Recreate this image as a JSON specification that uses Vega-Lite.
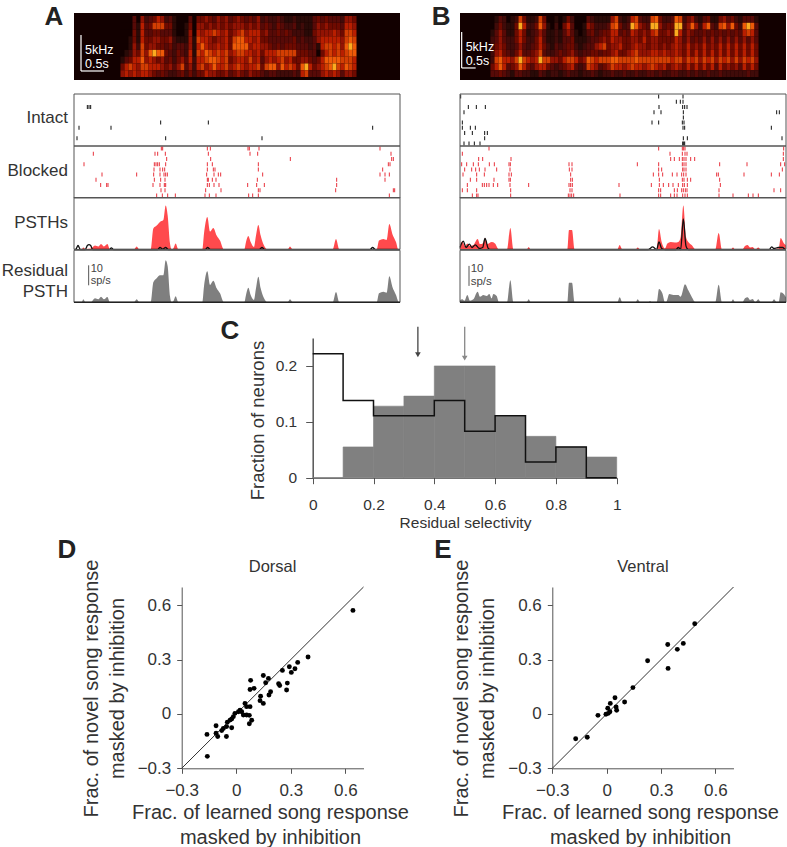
{"$schema":"https://vega.github.io/schema/vega-lite/v6.json","width":787,"height":847,"padding":0,"autosize":{"type":"none"},"background":"white",
"config":{"view":{"stroke":null},"font":"Liberation Sans","axis":{"grid":false,"labelFont":"Liberation Sans","titleFont":"Liberation Sans","labelColor":"#333","titleColor":"#333","tickColor":"#555","domainColor":"#555","titleFontWeight":"normal","labelFlush":false,"labelOverlap":false},"text":{"font":"Liberation Sans"}},
"resolve":{"scale":{"x":"independent","y":"independent","color":"independent"}},
"datasets":{
"specA":[{"t":366,"a":0,"b":0,"c":0,"d":0,"e":0,"f":0,"g":1,"h":4,"i":5},{"t":378,"a":0,"b":0,"c":0,"d":0,"e":0,"f":1,"g":3,"h":6,"i":6},{"t":390,"a":0,"b":0,"c":0,"d":1,"e":1,"f":2,"g":4,"h":7,"i":5},{"t":402,"a":3,"b":3,"c":4,"d":4,"e":5,"f":5,"g":6,"h":6,"i":6},{"t":414,"a":0,"b":1,"c":1,"d":1,"e":2,"f":4,"g":6,"h":5,"i":5},{"t":426,"a":5,"b":6,"c":6,"d":6,"e":7,"f":7,"g":8,"h":7,"i":6},{"t":438,"a":2,"b":3,"c":3,"d":4,"e":4,"f":5,"g":5,"h":7,"i":6},{"t":450,"a":3,"b":4,"c":3,"d":4,"e":5,"f":8,"g":6,"h":6,"i":5},{"t":462,"a":4,"b":7,"c":4,"d":5,"e":5,"f":9,"g":5,"h":6,"i":4},{"t":474,"a":6,"b":7,"c":4,"d":5,"e":4,"f":8,"g":4,"h":6,"i":3},{"t":486,"a":5,"b":7,"c":3,"d":4,"e":4,"f":8,"g":5,"h":5,"i":4},{"t":498,"a":2,"b":4,"c":3,"d":4,"e":3,"f":4,"g":3,"h":4,"i":3},{"t":510,"a":3,"b":4,"c":3,"d":5,"e":4,"f":3,"g":4,"h":5,"i":2},{"t":522,"a":1,"b":1,"c":1,"d":2,"e":2,"f":2,"g":2,"h":3,"i":2},{"t":534,"a":0,"b":0,"c":0,"d":1,"e":3,"f":4,"g":4,"h":5,"i":3},{"t":546,"a":0,"b":0,"c":0,"d":1,"e":3,"f":3,"g":5,"h":7,"i":4},{"t":558,"a":0,"b":1,"c":1,"d":1,"e":2,"f":2,"g":3,"h":3,"i":2},{"t":570,"a":3,"b":4,"c":5,"d":5,"e":5,"f":6,"g":6,"h":5,"i":4},{"t":582,"a":0,"b":0,"c":0,"d":1,"e":1,"f":1,"g":2,"h":2,"i":2},{"t":594,"a":4,"b":5,"c":6,"d":7,"e":6,"f":7,"g":6,"h":6,"i":4},{"t":606,"a":4,"b":5,"c":5,"d":6,"e":8,"f":6,"g":6,"h":7,"i":4},{"t":618,"a":5,"b":4,"c":6,"d":6,"e":6,"f":8,"g":7,"h":5,"i":6},{"t":630,"a":4,"b":5,"c":6,"d":5,"e":5,"f":7,"g":8,"h":6,"i":5},{"t":642,"a":3,"b":4,"c":7,"d":4,"e":5,"f":6,"g":8,"h":8,"i":5},{"t":654,"a":5,"b":5,"c":6,"d":5,"e":6,"f":7,"g":7,"h":6,"i":4},{"t":666,"a":4,"b":4,"c":5,"d":5,"e":5,"f":6,"g":6,"h":6,"i":4},{"t":678,"a":5,"b":5,"c":6,"d":6,"e":6,"f":7,"g":7,"h":7,"i":5},{"t":690,"a":3,"b":4,"c":4,"d":4,"e":4,"f":5,"g":4,"h":5,"i":3},{"t":702,"a":4,"b":5,"c":5,"d":7,"e":8,"f":6,"g":5,"h":6,"i":4},{"t":714,"a":5,"b":5,"c":6,"d":8,"e":8,"f":7,"g":6,"h":7,"i":5},{"t":726,"a":4,"b":5,"c":7,"d":8,"e":8,"f":7,"g":6,"h":6,"i":4},{"t":738,"a":3,"b":4,"c":5,"d":6,"e":8,"f":6,"g":5,"h":5,"i":3},{"t":750,"a":4,"b":5,"c":6,"d":6,"e":5,"f":6,"g":7,"h":6,"i":5},{"t":762,"a":3,"b":4,"c":6,"d":5,"e":6,"f":5,"g":5,"h":6,"i":4},{"t":774,"a":5,"b":5,"c":6,"d":6,"e":6,"f":6,"g":6,"h":7,"i":4},{"t":786,"a":2,"b":3,"c":4,"d":4,"e":5,"f":4,"g":3,"h":4,"i":3},{"t":798,"a":3,"b":4,"c":5,"d":4,"e":5,"f":6,"g":5,"h":7,"i":2},{"t":810,"a":2,"b":3,"c":3,"d":3,"e":4,"f":6,"g":6,"h":8,"i":3},{"t":822,"a":2,"b":2,"c":3,"d":3,"e":3,"f":6,"g":5,"h":8,"i":3},{"t":834,"a":3,"b":4,"c":4,"d":3,"e":4,"f":7,"g":6,"h":5,"i":2},{"t":846,"a":2,"b":3,"c":3,"d":3,"e":3,"f":7,"g":7,"h":8,"i":2},{"t":858,"a":1,"b":2,"c":4,"d":3,"e":4,"f":7,"g":5,"h":6,"i":2},{"t":870,"a":1,"b":2,"c":3,"d":3,"e":4,"f":7,"g":6,"h":7,"i":2},{"t":882,"a":2,"b":3,"c":2,"d":4,"e":4,"f":7,"g":4,"h":6,"i":3},{"t":894,"a":1,"b":1,"c":2,"d":2,"e":3,"f":4,"g":4,"h":4,"i":2},{"t":906,"a":1,"b":2,"c":2,"d":3,"e":3,"f":4,"g":5,"h":8,"i":6},{"t":918,"a":1,"b":1,"c":1,"d":2,"e":3,"f":4,"g":5,"h":9,"i":7},{"t":930,"a":1,"b":1,"c":1,"d":2,"e":2,"f":3,"g":4,"h":6,"i":3},{"t":942,"a":3,"b":3,"c":4,"d":3,"e":3,"f":3,"g":3,"h":4,"i":3},{"t":954,"a":4,"b":5,"c":5,"d":5,"e":1,"f":0,"g":4,"h":5,"i":3},{"t":966,"a":3,"b":4,"c":5,"d":6,"e":6,"f":4,"g":6,"h":6,"i":5},{"t":978,"a":4,"b":5,"c":5,"d":6,"e":7,"f":6,"g":8,"h":7,"i":6},{"t":990,"a":3,"b":4,"c":5,"d":6,"e":7,"f":7,"g":8,"h":8,"i":5},{"t":1002,"a":3,"b":4,"c":6,"d":6,"e":6,"f":6,"g":8,"h":9,"i":6},{"t":1014,"a":3,"b":4,"c":5,"d":6,"e":7,"f":7,"g":8,"h":7,"i":5},{"t":1026,"a":2,"b":3,"c":4,"d":5,"e":5,"f":6,"g":7,"h":6,"i":3},{"t":1038,"a":5,"b":6,"c":7,"d":7,"e":8,"f":7,"g":7,"h":8,"i":5},{"t":1050,"a":5,"b":6,"c":7,"d":8,"e":9,"f":8,"g":7,"h":7,"i":5},{"t":1062,"a":4,"b":5,"c":6,"d":7,"e":8,"f":8,"g":6,"h":6,"i":4}],
"specB":[{"t":180,"a":0,"b":0,"c":1,"d":2,"e":2,"f":2,"g":2,"h":4,"i":3},{"t":192,"a":1,"b":2,"c":3,"d":3,"e":4,"f":5,"g":7,"h":6,"i":3},{"t":204,"a":3,"b":4,"c":5,"d":5,"e":5,"f":6,"g":8,"h":8,"i":4},{"t":216,"a":2,"b":2,"c":3,"d":3,"e":4,"f":4,"g":6,"h":6,"i":3},{"t":228,"a":0,"b":1,"c":1,"d":2,"e":2,"f":3,"g":6,"h":3,"i":2},{"t":240,"a":1,"b":1,"c":1,"d":2,"e":2,"f":2,"g":5,"h":4,"i":1},{"t":252,"a":2,"b":4,"c":4,"d":4,"e":3,"f":4,"g":7,"h":5,"i":3},{"t":264,"a":7,"b":9,"c":6,"d":6,"e":5,"f":6,"g":9,"h":8,"i":3},{"t":276,"a":4,"b":6,"c":4,"d":4,"e":3,"f":3,"g":7,"h":6,"i":2},{"t":288,"a":1,"b":2,"c":1,"d":2,"e":2,"f":3,"g":6,"h":4,"i":2},{"t":300,"a":1,"b":2,"c":2,"d":2,"e":3,"f":4,"g":5,"h":3,"i":1},{"t":312,"a":2,"b":4,"c":3,"d":4,"e":4,"f":5,"g":6,"h":5,"i":1},{"t":324,"a":7,"b":8,"c":5,"d":6,"e":6,"f":7,"g":9,"h":6,"i":3},{"t":336,"a":4,"b":5,"c":3,"d":3,"e":4,"f":3,"g":7,"h":6,"i":2},{"t":348,"a":0,"b":1,"c":1,"d":1,"e":2,"f":2,"g":7,"h":4,"i":1},{"t":360,"a":0,"b":0,"c":1,"d":1,"e":1,"f":2,"g":5,"h":3,"i":2},{"t":372,"a":1,"b":2,"c":2,"d":2,"e":3,"f":3,"g":5,"h":2,"i":2},{"t":384,"a":0,"b":0,"c":1,"d":1,"e":2,"f":4,"g":4,"h":3,"i":1},{"t":396,"a":1,"b":4,"c":3,"d":3,"e":3,"f":3,"g":6,"h":4,"i":2},{"t":408,"a":4,"b":6,"c":5,"d":3,"e":4,"f":4,"g":7,"h":5,"i":3},{"t":420,"a":2,"b":3,"c":3,"d":4,"e":4,"f":5,"g":7,"h":6,"i":2},{"t":432,"a":0,"b":0,"c":1,"d":1,"e":2,"f":3,"g":6,"h":3,"i":2},{"t":444,"a":0,"b":0,"c":0,"d":1,"e":1,"f":2,"g":4,"h":2,"i":1},{"t":456,"a":0,"b":1,"c":1,"d":1,"e":2,"f":3,"g":5,"h":3,"i":2},{"t":468,"a":3,"b":5,"c":3,"d":2,"e":3,"f":3,"g":8,"h":7,"i":2},{"t":480,"a":2,"b":4,"c":4,"d":3,"e":3,"f":4,"g":7,"h":6,"i":3},{"t":492,"a":1,"b":2,"c":2,"d":3,"e":5,"f":4,"g":6,"h":5,"i":2},{"t":504,"a":1,"b":2,"c":3,"d":4,"e":6,"f":3,"g":7,"h":3,"i":1},{"t":516,"a":1,"b":2,"c":4,"d":5,"e":7,"f":4,"g":7,"h":4,"i":2},{"t":528,"a":1,"b":3,"c":4,"d":4,"e":4,"f":4,"g":7,"h":5,"i":2},{"t":540,"a":5,"b":7,"c":6,"d":6,"e":5,"f":5,"g":8,"h":7,"i":3},{"t":552,"a":7,"b":8,"c":6,"d":5,"e":5,"f":6,"g":8,"h":6,"i":2},{"t":564,"a":2,"b":4,"c":3,"d":5,"e":6,"f":4,"g":7,"h":6,"i":2},{"t":576,"a":1,"b":2,"c":4,"d":4,"e":4,"f":4,"g":7,"h":5,"i":3},{"t":588,"a":2,"b":3,"c":3,"d":4,"e":4,"f":5,"g":7,"h":6,"i":2},{"t":600,"a":6,"b":9,"c":6,"d":5,"e":5,"f":6,"g":7,"h":7,"i":2},{"t":612,"a":7,"b":8,"c":5,"d":5,"e":6,"f":7,"g":8,"h":6,"i":3},{"t":624,"a":3,"b":5,"c":4,"d":4,"e":5,"f":5,"g":7,"h":6,"i":2},{"t":636,"a":2,"b":4,"c":5,"d":6,"e":5,"f":5,"g":7,"h":5,"i":2},{"t":648,"a":2,"b":3,"c":4,"d":4,"e":4,"f":5,"g":7,"h":6,"i":3},{"t":660,"a":7,"b":9,"c":6,"d":5,"e":5,"f":6,"g":7,"h":7,"i":3},{"t":672,"a":8,"b":9,"c":7,"d":5,"e":5,"f":6,"g":7,"h":6,"i":2},{"t":684,"a":4,"b":5,"c":4,"d":4,"e":4,"f":5,"g":7,"h":5,"i":3},{"t":696,"a":2,"b":3,"c":4,"d":4,"e":5,"f":6,"g":7,"h":6,"i":2},{"t":708,"a":2,"b":4,"c":5,"d":4,"e":4,"f":5,"g":7,"h":4,"i":2},{"t":720,"a":3,"b":4,"c":4,"d":4,"e":5,"f":5,"g":6,"h":5,"i":3},{"t":732,"a":8,"b":9,"c":9,"d":6,"e":6,"f":6,"g":7,"h":6,"i":3},{"t":744,"a":7,"b":9,"c":6,"d":5,"e":5,"f":5,"g":7,"h":5,"i":2},{"t":756,"a":2,"b":3,"c":3,"d":3,"e":4,"f":4,"g":5,"h":4,"i":2},{"t":768,"a":4,"b":5,"c":5,"d":5,"e":6,"f":6,"g":7,"h":6,"i":3},{"t":780,"a":5,"b":8,"c":4,"d":3,"e":4,"f":4,"g":6,"h":4,"i":2},{"t":792,"a":2,"b":5,"c":3,"d":4,"e":5,"f":6,"g":7,"h":6,"i":3},{"t":804,"a":1,"b":2,"c":3,"d":3,"e":4,"f":4,"g":5,"h":4,"i":2},{"t":816,"a":3,"b":6,"c":4,"d":5,"e":6,"f":6,"g":7,"h":6,"i":2},{"t":828,"a":4,"b":8,"c":3,"d":3,"e":4,"f":4,"g":6,"h":4,"i":3},{"t":840,"a":1,"b":3,"c":4,"d":5,"e":5,"f":6,"g":7,"h":6,"i":2},{"t":852,"a":1,"b":2,"c":3,"d":3,"e":4,"f":4,"g":5,"h":3,"i":2},{"t":864,"a":4,"b":7,"c":4,"d":5,"e":6,"f":6,"g":7,"h":6,"i":3},{"t":876,"a":5,"b":8,"c":3,"d":3,"e":4,"f":4,"g":6,"h":4,"i":2},{"t":888,"a":3,"b":5,"c":4,"d":5,"e":6,"f":6,"g":7,"h":5,"i":2},{"t":900,"a":4,"b":8,"c":3,"d":3,"e":4,"f":4,"g":5,"h":4,"i":2},{"t":912,"a":2,"b":4,"c":4,"d":5,"e":6,"f":6,"g":7,"h":5,"i":2},{"t":924,"a":1,"b":2,"c":3,"d":3,"e":4,"f":4,"g":5,"h":3,"i":2},{"t":936,"a":3,"b":8,"c":6,"d":5,"e":6,"f":6,"g":7,"h":6,"i":2},{"t":948,"a":3,"b":9,"c":7,"d":3,"e":4,"f":4,"g":6,"h":4,"i":3},{"t":960,"a":3,"b":8,"c":6,"d":5,"e":6,"f":6,"g":7,"h":6,"i":2},{"t":972,"a":1,"b":3,"c":3,"d":3,"e":4,"f":4,"g":5,"h":4,"i":2}],
"intactA":[{"r":2,"t":262},{"r":2,"t":267},{"r":2,"t":272},{"r":5,"t":482},{"r":5,"t":625},{"r":6,"t":237},{"r":6,"t":333},{"r":6,"t":1118},{"r":8,"t":231},{"r":8,"t":497},{"r":8,"t":786}],
"blockedA":[{"r":0,"t":484},{"r":0,"t":488},{"r":0,"t":622},{"r":0,"t":631},{"r":0,"t":744},{"r":0,"t":748},{"r":0,"t":777},{"r":0,"t":1140},{"r":1,"t":280},{"r":1,"t":465},{"r":1,"t":473},{"r":1,"t":496},{"r":1,"t":625},{"r":1,"t":750},{"r":1,"t":773},{"r":1,"t":1173},{"r":2,"t":500},{"r":2,"t":632},{"r":2,"t":871},{"r":2,"t":1175},{"r":2,"t":1180},{"r":3,"t":252},{"r":3,"t":463},{"r":3,"t":468},{"r":3,"t":473},{"r":3,"t":478},{"r":3,"t":497},{"r":3,"t":622},{"r":3,"t":637},{"r":3,"t":775},{"r":3,"t":1165},{"r":3,"t":1170},{"r":4,"t":462},{"r":4,"t":480},{"r":4,"t":488},{"r":4,"t":494},{"r":4,"t":622},{"r":4,"t":640},{"r":4,"t":645},{"r":4,"t":775},{"r":4,"t":1148},{"r":5,"t":306},{"r":5,"t":410},{"r":5,"t":461},{"r":5,"t":480},{"r":5,"t":492},{"r":5,"t":497},{"r":5,"t":502},{"r":5,"t":620},{"r":5,"t":642},{"r":5,"t":655},{"r":5,"t":662},{"r":5,"t":788},{"r":5,"t":1140},{"r":5,"t":1155},{"r":5,"t":1168},{"r":6,"t":288},{"r":6,"t":463},{"r":6,"t":482},{"r":6,"t":495},{"r":6,"t":622},{"r":6,"t":625},{"r":6,"t":637},{"r":6,"t":648},{"r":6,"t":772},{"r":6,"t":1010},{"r":6,"t":1155},{"r":7,"t":302},{"r":7,"t":320},{"r":7,"t":324},{"r":7,"t":459},{"r":7,"t":480},{"r":7,"t":493},{"r":7,"t":497},{"r":7,"t":622},{"r":7,"t":628},{"r":7,"t":642},{"r":7,"t":657},{"r":7,"t":743},{"r":7,"t":770},{"r":7,"t":793},{"r":7,"t":1010},{"r":8,"t":483},{"r":8,"t":495},{"r":8,"t":617},{"r":8,"t":663},{"r":8,"t":775},{"r":8,"t":780},{"r":8,"t":1007},{"r":8,"t":1180},{"r":8,"t":1184},{"r":9,"t":470},{"r":9,"t":487},{"r":9,"t":503},{"r":9,"t":526},{"r":9,"t":615},{"r":9,"t":628},{"r":9,"t":648},{"r":9,"t":746},{"r":9,"t":758},{"r":9,"t":775},{"r":9,"t":1168}],
"intactB":[{"r":0,"t":92},{"r":0,"t":686},{"r":0,"t":759},{"r":1,"t":739},{"r":1,"t":751},{"r":1,"t":759},{"r":2,"t":115},{"r":2,"t":139},{"r":2,"t":166},{"r":2,"t":687},{"r":2,"t":758},{"r":2,"t":764},{"r":2,"t":771},{"r":3,"t":102},{"r":3,"t":672},{"r":3,"t":693},{"r":3,"t":760},{"r":3,"t":1040},{"r":3,"t":1048},{"r":4,"t":760},{"r":5,"t":97},{"r":5,"t":666},{"r":5,"t":686},{"r":5,"t":757},{"r":5,"t":762},{"r":6,"t":97},{"r":6,"t":121},{"r":6,"t":136},{"r":6,"t":759},{"r":6,"t":764},{"r":6,"t":1024},{"r":7,"t":104},{"r":7,"t":127},{"r":7,"t":164},{"r":7,"t":172},{"r":8,"t":164},{"r":8,"t":760},{"r":8,"t":772},{"r":8,"t":1056},{"r":9,"t":102},{"r":9,"t":117},{"r":9,"t":133},{"r":9,"t":150},{"r":9,"t":758},{"r":9,"t":761},{"r":9,"t":764}],
"blockedB":[{"r":0,"t":177},{"r":0,"t":686},{"r":0,"t":757},{"r":0,"t":761},{"r":0,"t":765},{"r":0,"t":1061},{"r":1,"t":97},{"r":1,"t":720},{"r":1,"t":757},{"r":1,"t":765},{"r":1,"t":771},{"r":1,"t":1060},{"r":2,"t":146},{"r":2,"t":158},{"r":2,"t":243},{"r":2,"t":722},{"r":2,"t":733},{"r":2,"t":748},{"r":2,"t":757},{"r":2,"t":762},{"r":2,"t":768},{"r":2,"t":782},{"r":2,"t":794},{"r":2,"t":1060},{"r":3,"t":95},{"r":3,"t":110},{"r":3,"t":130},{"r":3,"t":145},{"r":3,"t":178},{"r":3,"t":193},{"r":3,"t":237},{"r":3,"t":241},{"r":3,"t":417},{"r":3,"t":426},{"r":3,"t":622},{"r":3,"t":686},{"r":3,"t":757},{"r":3,"t":762},{"r":3,"t":768},{"r":3,"t":869},{"r":3,"t":951},{"r":3,"t":1052},{"r":3,"t":1064},{"r":4,"t":104},{"r":4,"t":125},{"r":4,"t":137},{"r":4,"t":148},{"r":4,"t":165},{"r":4,"t":200},{"r":4,"t":240},{"r":4,"t":418},{"r":4,"t":426},{"r":4,"t":686},{"r":4,"t":695},{"r":4,"t":758},{"r":4,"t":762},{"r":4,"t":768},{"r":4,"t":1057},{"r":5,"t":99},{"r":5,"t":140},{"r":5,"t":163},{"r":5,"t":237},{"r":5,"t":244},{"r":5,"t":422},{"r":5,"t":670},{"r":5,"t":686},{"r":5,"t":698},{"r":5,"t":727},{"r":5,"t":741},{"r":5,"t":755},{"r":5,"t":761},{"r":5,"t":768},{"r":5,"t":860},{"r":5,"t":865},{"r":5,"t":942},{"r":5,"t":1024},{"r":5,"t":1048},{"r":6,"t":121},{"r":6,"t":140},{"r":6,"t":192},{"r":6,"t":237},{"r":6,"t":241},{"r":6,"t":422},{"r":6,"t":427},{"r":6,"t":688},{"r":6,"t":757},{"r":6,"t":762},{"r":6,"t":772},{"r":6,"t":782},{"r":6,"t":869},{"r":7,"t":112},{"r":7,"t":157},{"r":7,"t":163},{"r":7,"t":170},{"r":7,"t":177},{"r":7,"t":190},{"r":7,"t":203},{"r":7,"t":240},{"r":7,"t":296},{"r":7,"t":417},{"r":7,"t":422},{"r":7,"t":427},{"r":7,"t":567},{"r":7,"t":664},{"r":7,"t":688},{"r":7,"t":700},{"r":7,"t":716},{"r":7,"t":729},{"r":7,"t":745},{"r":7,"t":758},{"r":7,"t":763},{"r":7,"t":772},{"r":7,"t":871},{"r":8,"t":97},{"r":8,"t":112},{"r":8,"t":140},{"r":8,"t":242},{"r":8,"t":420},{"r":8,"t":426},{"r":8,"t":686},{"r":8,"t":692},{"r":8,"t":733},{"r":8,"t":742},{"r":8,"t":755},{"r":8,"t":760},{"r":8,"t":766},{"r":8,"t":771},{"r":8,"t":867},{"r":8,"t":1032},{"r":8,"t":1052},{"r":9,"t":127},{"r":9,"t":140},{"r":9,"t":144},{"r":9,"t":242},{"r":9,"t":415},{"r":9,"t":420},{"r":9,"t":425},{"r":9,"t":431},{"r":9,"t":570},{"r":9,"t":686},{"r":9,"t":692},{"r":9,"t":722},{"r":9,"t":733},{"r":9,"t":741},{"r":9,"t":758},{"r":9,"t":765},{"r":9,"t":772},{"r":9,"t":867},{"r":9,"t":909},{"r":9,"t":955},{"r":9,"t":969},{"r":9,"t":985}],
"redA":[{"t":222,"v":0},{"t":245,"v":0},{"t":250,"v":1},{"t":256,"v":0.3},{"t":272,"v":0.5},{"t":285,"v":2},{"t":295,"v":1.5},{"t":303,"v":2.8},{"t":312,"v":1.5},{"t":322,"v":2.7},{"t":330,"v":0},{"t":402,"v":0},{"t":410,"v":1.5},{"t":418,"v":0},{"t":452,"v":0},{"t":460,"v":10.5},{"t":470,"v":12},{"t":480,"v":13.8},{"t":490,"v":14.7},{"t":497,"v":22},{"t":503,"v":17},{"t":510,"v":3},{"t":515,"v":0},{"t":520,"v":0.5},{"t":527,"v":3},{"t":535,"v":0},{"t":607,"v":0},{"t":612,"v":8},{"t":622,"v":16.3},{"t":630,"v":9},{"t":640,"v":10.8},{"t":650,"v":7},{"t":660,"v":4.5},{"t":672,"v":0},{"t":733,"v":0},{"t":738,"v":3.7},{"t":745,"v":6.7},{"t":752,"v":3.7},{"t":762,"v":1.2},{"t":768,"v":7},{"t":775,"v":12.3},{"t":782,"v":7},{"t":790,"v":2.8},{"t":803,"v":0},{"t":863,"v":0},{"t":870,"v":1.5},{"t":878,"v":0},{"t":998,"v":0},{"t":1008,"v":5.2},{"t":1018,"v":0},{"t":1130,"v":0},{"t":1137,"v":4.5},{"t":1150,"v":5.3},{"t":1160,"v":4.8},{"t":1168,"v":12.7},{"t":1177,"v":7.8},{"t":1188,"v":3.7},{"t":1195,"v":0},{"t":1200,"v":0}],
"blackA":[{"t":222,"v":0},{"t":228,"v":0.2},{"t":234,"v":2},{"t":241,"v":0},{"t":256,"v":0},{"t":262,"v":2},{"t":267,"v":2.4},{"t":272,"v":2},{"t":278,"v":0},{"t":328,"v":0},{"t":334,"v":0.8},{"t":341,"v":0},{"t":473,"v":0},{"t":480,"v":1},{"t":488,"v":0.2},{"t":497,"v":1},{"t":505,"v":0},{"t":616,"v":0},{"t":623,"v":1},{"t":631,"v":0},{"t":778,"v":0},{"t":786,"v":1},{"t":794,"v":0},{"t":1110,"v":0},{"t":1118,"v":1},{"t":1126,"v":0},{"t":1200,"v":0}],
"grayA":[{"t":222,"v":0},{"t":245,"v":0},{"t":250,"v":1.5},{"t":256,"v":0},{"t":272,"v":0},{"t":285,"v":2},{"t":295,"v":1.5},{"t":303,"v":2.8},{"t":312,"v":1.5},{"t":322,"v":2.7},{"t":330,"v":0},{"t":402,"v":0},{"t":410,"v":1.5},{"t":418,"v":0},{"t":452,"v":0},{"t":460,"v":10},{"t":470,"v":12},{"t":480,"v":13.5},{"t":490,"v":13.5},{"t":497,"v":21},{"t":503,"v":18},{"t":510,"v":3},{"t":515,"v":0},{"t":520,"v":0.5},{"t":527,"v":3},{"t":535,"v":0},{"t":607,"v":0},{"t":612,"v":8},{"t":622,"v":15.5},{"t":630,"v":8.7},{"t":640,"v":10.8},{"t":650,"v":7},{"t":660,"v":4.5},{"t":672,"v":0},{"t":733,"v":0},{"t":738,"v":3.7},{"t":745,"v":7.3},{"t":752,"v":3.7},{"t":762,"v":1.2},{"t":768,"v":7},{"t":775,"v":12.8},{"t":782,"v":7},{"t":790,"v":2.8},{"t":803,"v":0},{"t":863,"v":0},{"t":870,"v":1.5},{"t":878,"v":0},{"t":998,"v":0},{"t":1008,"v":5.2},{"t":1018,"v":0},{"t":1130,"v":0},{"t":1137,"v":4.5},{"t":1150,"v":5.3},{"t":1160,"v":4.8},{"t":1168,"v":13},{"t":1177,"v":7.8},{"t":1188,"v":3.7},{"t":1197,"v":0},{"t":1200,"v":0}],
"redB":[{"t":90,"v":2.2},{"t":97,"v":4},{"t":105,"v":1.7},{"t":112,"v":3},{"t":120,"v":1.7},{"t":130,"v":2.2},{"t":143,"v":5.3},{"t":150,"v":2.7},{"t":160,"v":3.3},{"t":165,"v":5.8},{"t":172,"v":2.7},{"t":185,"v":3.7},{"t":195,"v":3},{"t":207,"v":0},{"t":231,"v":0},{"t":241,"v":10.7},{"t":250,"v":0},{"t":290,"v":0},{"t":296,"v":1.3},{"t":302,"v":0},{"t":412,"v":0},{"t":417,"v":9.7},{"t":426,"v":9.7},{"t":434,"v":0},{"t":562,"v":0},{"t":569,"v":2.2},{"t":577,"v":0},{"t":617,"v":0},{"t":623,"v":1},{"t":630,"v":0},{"t":680,"v":0},{"t":687,"v":10.3},{"t":695,"v":3.8},{"t":705,"v":0.5},{"t":712,"v":3},{"t":722,"v":3.8},{"t":735,"v":3.5},{"t":745,"v":3.8},{"t":752,"v":6.3},{"t":760,"v":22},{"t":768,"v":6.3},{"t":775,"v":3.8},{"t":785,"v":2.2},{"t":797,"v":0},{"t":856,"v":0},{"t":866,"v":8.3},{"t":876,"v":0},{"t":903,"v":0},{"t":909,"v":1},{"t":915,"v":0},{"t":937,"v":0},{"t":945,"v":1.7},{"t":953,"v":2.2},{"t":960,"v":1},{"t":968,"v":1.3},{"t":976,"v":0},{"t":985,"v":1},{"t":992,"v":0},{"t":1030,"v":0},{"t":1040,"v":0.5},{"t":1046,"v":0.5},{"t":1052,"v":5.7},{"t":1062,"v":3},{"t":1068,"v":2.2}],
"blackB":[{"t":90,"v":1},{"t":100,"v":4.2},{"t":108,"v":1},{"t":118,"v":2.7},{"t":126,"v":1},{"t":136,"v":2.3},{"t":148,"v":0.5},{"t":158,"v":1},{"t":165,"v":5.5},{"t":175,"v":0.5},{"t":182,"v":0},{"t":655,"v":0},{"t":668,"v":1.3},{"t":675,"v":0.5},{"t":680,"v":0},{"t":687,"v":3.8},{"t":695,"v":0.5},{"t":705,"v":0},{"t":738,"v":0},{"t":745,"v":1},{"t":752,"v":0},{"t":760,"v":15.3},{"t":768,"v":1.7},{"t":775,"v":0},{"t":1018,"v":0},{"t":1025,"v":1.3},{"t":1032,"v":0.5},{"t":1045,"v":1},{"t":1058,"v":1},{"t":1066,"v":0},{"t":1068,"v":0}],
"grayB":[{"t":90,"v":1},{"t":97,"v":1.5},{"t":103,"v":0.8},{"t":112,"v":3.7},{"t":120,"v":0.8},{"t":130,"v":1.5},{"t":143,"v":5.3},{"t":150,"v":2.8},{"t":160,"v":3.7},{"t":170,"v":3.2},{"t":178,"v":4.2},{"t":185,"v":2},{"t":190,"v":4.2},{"t":200,"v":3.2},{"t":207,"v":0},{"t":231,"v":0},{"t":241,"v":11},{"t":250,"v":0},{"t":290,"v":0},{"t":296,"v":1.5},{"t":302,"v":0},{"t":412,"v":0},{"t":417,"v":9.8},{"t":426,"v":9.8},{"t":434,"v":0},{"t":562,"v":0},{"t":569,"v":2.5},{"t":577,"v":0},{"t":617,"v":0},{"t":623,"v":1.5},{"t":630,"v":0},{"t":655,"v":0},{"t":660,"v":0.7},{"t":665,"v":0},{"t":680,"v":0},{"t":687,"v":6.7},{"t":697,"v":4.5},{"t":705,"v":0},{"t":708,"v":0},{"t":718,"v":4.2},{"t":730,"v":3.7},{"t":745,"v":3.7},{"t":752,"v":2.8},{"t":765,"v":9},{"t":775,"v":6},{"t":785,"v":2.8},{"t":797,"v":0},{"t":856,"v":0},{"t":866,"v":8.8},{"t":876,"v":0},{"t":903,"v":0},{"t":909,"v":1.5},{"t":915,"v":0},{"t":937,"v":0},{"t":945,"v":2},{"t":953,"v":2.5},{"t":960,"v":1.2},{"t":968,"v":1.7},{"t":976,"v":0},{"t":985,"v":1.5},{"t":992,"v":0},{"t":1025,"v":0},{"t":1032,"v":1.5},{"t":1040,"v":0},{"t":1046,"v":0},{"t":1052,"v":5},{"t":1062,"v":4},{"t":1068,"v":2.5}],
"hist":[{"lo":0,"hi":0.1,"res":0,"intact":0.222},{"lo":0.1,"hi":0.2,"res":0.055,"intact":0.138},{"lo":0.2,"hi":0.3,"res":0.128,"intact":0.111},{"lo":0.3,"hi":0.4,"res":0.146,"intact":0.111},{"lo":0.4,"hi":0.5,"res":0.2,"intact":0.138},{"lo":0.5,"hi":0.6,"res":0.2,"intact":0.083},{"lo":0.6,"hi":0.7,"res":0.11,"intact":0.111},{"lo":0.7,"hi":0.8,"res":0.074,"intact":0.028},{"lo":0.8,"hi":0.9,"res":0.055,"intact":0.055},{"lo":0.9,"hi":1,"res":0.037,"intact":0},{"lo":1,"hi":1,"res":0,"intact":0}],
"arrows":[{"lo":0.346,"top":0.27,"tip":0.22,"c":"black"},{"lo":0.5,"top":0.27,"tip":0.214,"c":"gray"}],
"dorsal":[{"x":0.642,"y":0.571},{"x":0.395,"y":0.314},{"x":0.338,"y":0.284},{"x":0.323,"y":0.249},{"x":0.292,"y":0.26},{"x":0.303,"y":0.229},{"x":0.254,"y":0.24},{"x":0.149,"y":0.212},{"x":0.177,"y":0.196},{"x":0.162,"y":0.172},{"x":0.079,"y":0.185},{"x":0.076,"y":0.135},{"x":0.098,"y":0.141},{"x":0.233,"y":0.167},{"x":0.239,"y":0.157},{"x":0.281,"y":0.17},{"x":0.277,"y":0.132},{"x":0.189,"y":0.122},{"x":0.18,"y":0.104},{"x":0.134,"y":0.097},{"x":0.131,"y":0.073},{"x":0.149,"y":0.058},{"x":0.048,"y":0.058},{"x":0.057,"y":0.04},{"x":0.076,"y":0.04},{"x":0.072,"y":-0.008},{"x":0.085,"y":-0.035},{"x":0.072,"y":-0.054},{"x":0.021,"y":0.021},{"x":0.03,"y":0.012},{"x":0.012,"y":0.012},{"x":-0.007,"y":0.003},{"x":-0.016,"y":-0.015},{"x":-0.025,"y":-0.028},{"x":-0.034,"y":-0.034},{"x":-0.049,"y":-0.046},{"x":-0.025,"y":-0.076},{"x":-0.053,"y":-0.07},{"x":-0.071,"y":-0.08},{"x":-0.08,"y":-0.092},{"x":-0.111,"y":-0.065},{"x":-0.161,"y":-0.113},{"x":-0.111,"y":-0.107},{"x":-0.102,"y":-0.125},{"x":-0.054,"y":-0.125},{"x":-0.159,"y":-0.234},{"x":0.039,"y":-0.006},{"x":0.057,"y":-0.006}],
"ventral":[{"x":0.486,"y":0.497},{"x":0.337,"y":0.383},{"x":0.423,"y":0.389},{"x":0.39,"y":0.356},{"x":0.339,"y":0.251},{"x":0.226,"y":0.293},{"x":0.145,"y":0.145},{"x":0.099,"y":0.066},{"x":0.046,"y":0.089},{"x":0.02,"y":0.058},{"x":0.052,"y":0.038},{"x":0.055,"y":0.02},{"x":0.006,"y":0.031},{"x":0.018,"y":0.012},{"x":0.009,"y":0.003},{"x":-0.004,"y":-0.002},{"x":-0.048,"y":-0.008},{"x":-0.107,"y":-0.129},{"x":-0.171,"y":-0.137}],
"diag":[{"x":-0.3,"y":-0.3},{"x":0.7,"y":0.7}]
},
"layer":[
{"data":{"values":[{"t":222,"t2":1200,"k":0,"k2":9.3}]},"mark":{"type":"rect","fill":"#120000"},"encoding":{"x":{"field":"t","type":"quantitative","scale":{"domain":[222,1200],"range":[74,400],"nice":false},"axis":null},"x2":{"field":"t2"},"y":{"field":"k","type":"quantitative","scale":{"domain":[0,9.3],"range":[80,13],"nice":false},"axis":null},"y2":{"field":"k2"}}},
{"data":{"values":[{"t":90,"t2":1068,"k":0,"k2":9.3}]},"mark":{"type":"rect","fill":"#120000"},"encoding":{"x":{"field":"t","type":"quantitative","scale":{"domain":[90,1068],"range":[460,786],"nice":false},"axis":null},"x2":{"field":"t2"},"y":{"field":"k","type":"quantitative","scale":{"domain":[0,9.3],"range":[80,13],"nice":false},"axis":null},"y2":{"field":"k2"}}},
{"data":{"name":"specA"},"transform":[{"fold":["a","b","c","d","e","f","g","h","i"],"as":["band","level"]}],"mark":{"type":"rect"},"encoding":{"x":{"field":"t","bin":{"step":12,"extent":[216,1200]},"type":"quantitative","scale":{"domain":[222,1200],"range":[74,400],"nice":false},"axis":null},"y":{"field":"band","type":"nominal","scale":{"domain":["a","b","c","d","e","f","g","h","i"],"range":[16,77],"paddingInner":0,"paddingOuter":0},"axis":null},"color":{"field":"level","type":"quantitative","scale":{"domain":[0,4,6,8,9.5],"range":["#120000","#6e0a00","#b81e00","#ee5a08","#ffd040"]},"legend":null}}},
{"data":{"name":"specB"},"transform":[{"fold":["a","b","c","d","e","f","g","h","i"],"as":["band","level"]}],"mark":{"type":"rect"},"encoding":{"x":{"field":"t","bin":{"step":12,"extent":[90,1074]},"type":"quantitative","scale":{"domain":[90,1068],"range":[460,786],"nice":false},"axis":null},"y":{"field":"band","type":"nominal","scale":{"domain":["a","b","c","d","e","f","g","h","i"],"range":[16,77],"paddingInner":0,"paddingOuter":0},"axis":null},"color":{"field":"level","type":"quantitative","scale":{"domain":[0,4,6,8,9.5],"range":["#120000","#6e0a00","#b81e00","#ee5a08","#ffd040"]},"legend":null}}},
{"encoding":{"x":{"field":"t","type":"quantitative","scale":{"domain":[222,1200],"range":[74,400],"nice":false},"axis":null},"y":{"field":"k","type":"quantitative","scale":{"domain":[0,9.3],"range":[80,13],"nice":false},"axis":null}},"layer":[
{"data":{"values":[{"t":243,"t2":243,"k":1.25,"k2":6.25},{"t":243,"t2":312,"k":1.25,"k2":1.25}]},"mark":{"type":"rule","color":"white","strokeWidth":1.2},"encoding":{"x2":{"field":"t2"},"y2":{"field":"k2"}}},
{"data":{"values":[{"t":255,"k":4.17,"label":"5kHz"},{"t":255,"k":2.2,"label":"0.5s"}]},"mark":{"type":"text","align":"left","baseline":"middle","color":"white","fontSize":12.5},"encoding":{"text":{"field":"label"}}}]},
{"encoding":{"x":{"field":"t","type":"quantitative","scale":{"domain":[90,1068],"range":[460,786],"nice":false},"axis":null},"y":{"field":"k","type":"quantitative","scale":{"domain":[0,9.3],"range":[80,13],"nice":false},"axis":null}},"layer":[
{"data":{"values":[{"t":95,"t2":95,"k":1.67,"k2":6.67},{"t":95,"t2":137,"k":1.67,"k2":1.67}]},"mark":{"type":"rule","color":"white","strokeWidth":1.2},"encoding":{"x2":{"field":"t2"},"y2":{"field":"k2"}}},
{"data":{"values":[{"t":107,"k":4.56,"label":"5kHz"},{"t":107,"k":2.64,"label":"0.5s"}]},"mark":{"type":"text","align":"left","baseline":"middle","color":"white","fontSize":12.5},"encoding":{"text":{"field":"label"}}}]},
{"encoding":{"x":{"field":"t","type":"quantitative","scale":{"domain":[222,1200],"range":[74,400],"nice":false},"axis":null},"y":{"field":"r","type":"quantitative","scale":{"domain":[-0.5,9.5],"range":[94,146],"nice":false},"axis":null}},"layer":[
{"data":{"name":"intactA"},"mark":{"type":"tick","orient":"vertical","size":4,"thickness":1,"color":"#111","opacity":1}},
{"data":{"values":[{"t":222,"t2":1200,"r":-0.5,"r2":9.5}]},"mark":{"type":"rect","fillOpacity":0,"stroke":"#555","strokeWidth":1},"encoding":{"x2":{"field":"t2"},"y2":{"field":"r2"}}},
{"data":{"values":[{"t":204,"r":4.1,"label":"Intact"}]},"mark":{"type":"text","align":"right","baseline":"middle","fontSize":17,"color":"#333"},"encoding":{"text":{"field":"label"}}}]},
{"encoding":{"x":{"field":"t","type":"quantitative","scale":{"domain":[222,1200],"range":[74,400],"nice":false},"axis":null},"y":{"field":"r","type":"quantitative","scale":{"domain":[-0.5,9.5],"range":[146,198],"nice":false},"axis":null}},"layer":[
{"data":{"name":"blockedA"},"mark":{"type":"tick","orient":"vertical","size":4,"thickness":1,"color":"#e8323c","opacity":1}},
{"data":{"values":[{"t":222,"t2":1200,"r":-0.5,"r2":9.5}]},"mark":{"type":"rect","fillOpacity":0,"stroke":"#555","strokeWidth":1},"encoding":{"x2":{"field":"t2"},"y2":{"field":"r2"}}},
{"data":{"values":[{"t":204,"r":4.3,"label":"Blocked"}]},"mark":{"type":"text","align":"right","baseline":"middle","fontSize":17,"color":"#333"},"encoding":{"text":{"field":"label"}}}]},
{"encoding":{"x":{"field":"t","type":"quantitative","scale":{"domain":[222,1200],"range":[74,400],"nice":false},"axis":null},"y":{"field":"v","type":"quantitative","scale":{"domain":[0,26],"range":[249.5,197.5],"nice":false},"axis":null}},"layer":[
{"data":{"name":"redA"},"mark":{"type":"area","color":"#ff4a4d","interpolate":"monotone"}},
{"data":{"name":"blackA"},"mark":{"type":"line","color":"#111","strokeWidth":1.3,"interpolate":"monotone"}},
{"data":{"values":[{"t":222,"t2":1200,"v":0,"v2":26}]},"mark":{"type":"rect","fillOpacity":0,"stroke":"#555","strokeWidth":1},"encoding":{"x2":{"field":"t2"},"y2":{"field":"v2"}}},
{"data":{"values":[{"t":204,"v":13.5,"label":"PSTHs"}]},"mark":{"type":"text","align":"right","baseline":"middle","fontSize":17,"color":"#333"},"encoding":{"text":{"field":"label"}}}]},
{"encoding":{"x":{"field":"t","type":"quantitative","scale":{"domain":[222,1200],"range":[74,400],"nice":false},"axis":null},"y":{"field":"v","type":"quantitative","scale":{"domain":[0,26],"range":[302.3,250.3],"nice":false},"axis":null}},"layer":[
{"data":{"name":"grayA"},"mark":{"type":"area","color":"#7f7f7f","interpolate":"monotone"}},
{"data":{"values":[{"t":222,"t2":1200,"v":0,"v2":26}]},"mark":{"type":"rect","fillOpacity":0,"stroke":"#555","strokeWidth":1},"encoding":{"x2":{"field":"t2"},"y2":{"field":"v2"}}},
{"data":{"values":[{"t":222,"t2":1200,"v":0}]},"mark":{"type":"rule","color":"#222","strokeWidth":1.5},"encoding":{"x2":{"field":"t2"}}},
{"data":{"values":[{"t":266,"v":18.5,"v2":8.5}]},"mark":{"type":"rule","color":"#555","strokeWidth":1},"encoding":{"y2":{"field":"v2"}}},
{"data":{"values":[{"t":272,"v":16.5,"label":"10"},{"t":272,"v":10.5,"label":"sp/s"}]},"mark":{"type":"text","align":"left","baseline":"middle","fontSize":11,"color":"#444"},"encoding":{"text":{"field":"label"}}},
{"data":{"values":[{"t":204,"v":15.6,"label":"Residual"},{"t":204,"v":5.1,"label":"PSTH"}]},"mark":{"type":"text","align":"right","baseline":"middle","fontSize":17,"color":"#333"},"encoding":{"text":{"field":"label"}}}]},
{"encoding":{"x":{"field":"t","type":"quantitative","scale":{"domain":[90,1068],"range":[460,786],"nice":false},"axis":null},"y":{"field":"r","type":"quantitative","scale":{"domain":[-0.5,9.5],"range":[94,146],"nice":false},"axis":null}},"layer":[
{"data":{"name":"intactB"},"mark":{"type":"tick","orient":"vertical","size":4,"thickness":1,"color":"#111","opacity":1}},
{"data":{"values":[{"t":90,"t2":1068,"r":-0.5,"r2":9.5}]},"mark":{"type":"rect","fillOpacity":0,"stroke":"#555","strokeWidth":1},"encoding":{"x2":{"field":"t2"},"y2":{"field":"r2"}}}]},
{"encoding":{"x":{"field":"t","type":"quantitative","scale":{"domain":[90,1068],"range":[460,786],"nice":false},"axis":null},"y":{"field":"r","type":"quantitative","scale":{"domain":[-0.5,9.5],"range":[146,198],"nice":false},"axis":null}},"layer":[
{"data":{"name":"blockedB"},"mark":{"type":"tick","orient":"vertical","size":4,"thickness":1,"color":"#e8323c","opacity":1}},
{"data":{"values":[{"t":90,"t2":1068,"r":-0.5,"r2":9.5}]},"mark":{"type":"rect","fillOpacity":0,"stroke":"#555","strokeWidth":1},"encoding":{"x2":{"field":"t2"},"y2":{"field":"r2"}}}]},
{"encoding":{"x":{"field":"t","type":"quantitative","scale":{"domain":[90,1068],"range":[460,786],"nice":false},"axis":null},"y":{"field":"v","type":"quantitative","scale":{"domain":[0,26],"range":[249.5,197.5],"nice":false},"axis":null}},"layer":[
{"data":{"name":"redB"},"mark":{"type":"area","color":"#ff4a4d","interpolate":"monotone"}},
{"data":{"name":"blackB"},"mark":{"type":"line","color":"#111","strokeWidth":1.3,"interpolate":"monotone"}},
{"data":{"values":[{"t":90,"t2":1068,"v":0,"v2":26}]},"mark":{"type":"rect","fillOpacity":0,"stroke":"#555","strokeWidth":1},"encoding":{"x2":{"field":"t2"},"y2":{"field":"v2"}}}]},
{"encoding":{"x":{"field":"t","type":"quantitative","scale":{"domain":[90,1068],"range":[460,786],"nice":false},"axis":null},"y":{"field":"v","type":"quantitative","scale":{"domain":[0,26],"range":[302.3,250.3],"nice":false},"axis":null}},"layer":[
{"data":{"name":"grayB"},"mark":{"type":"area","color":"#7f7f7f","interpolate":"monotone"}},
{"data":{"values":[{"t":90,"t2":1068,"v":0,"v2":26}]},"mark":{"type":"rect","fillOpacity":0,"stroke":"#555","strokeWidth":1},"encoding":{"x2":{"field":"t2"},"y2":{"field":"v2"}}},
{"data":{"values":[{"t":90,"t2":1068,"v":0}]},"mark":{"type":"rule","color":"#222","strokeWidth":1.5},"encoding":{"x2":{"field":"t2"}}},
{"data":{"values":[{"t":117,"v":18.2,"v2":8.2}]},"mark":{"type":"rule","color":"#555","strokeWidth":1},"encoding":{"y2":{"field":"v2"}}},
{"data":{"values":[{"t":122,"v":16.5,"label":"10"},{"t":122,"v":10,"label":"sp/s"}]},"mark":{"type":"text","align":"left","baseline":"middle","fontSize":11.5,"color":"#444"},"encoding":{"text":{"field":"label"}}}]},
{"layer":[
{"data":{"name":"hist"},"mark":{"type":"bar","color":"#808080","stroke":"#808080","strokeWidth":0.6,"orient":"vertical","binSpacing":0},"encoding":{"x":{"field":"lo","type":"quantitative","scale":{"domain":[0,1],"range":[312.7,616.7],"nice":false,"padding":0},"axis":{"orient":"bottom","values":[0,0.2,0.4,0.6,0.8,1],"format":"~g","offset":-369.3,"title":"Residual selectivity","titleX":465,"titleY":38,"titleFontSize":15.5,"labelFontSize":15.5,"tickSize":6,"labelPadding":14,"domain":true,"domainColor":"#333"}},"x2":{"field":"hi"},"y":{"field":"res","type":"quantitative","scale":{"domain":[0,0.25],"range":[477.7,338],"nice":false},"axis":{"orient":"left","values":[0,0.1,0.2],"format":"~g","offset":-312.7,"title":"Fraction of neurons","titleX":-45,"titleY":420,"titleFontSize":18.5,"labelFontSize":15.5,"tickSize":7,"labelPadding":9,"domainWidth":1.5}}}},
{"data":{"name":"hist"},"mark":{"type":"line","interpolate":"step-after","color":"#111","strokeWidth":1.5},"encoding":{"x":{"field":"lo","type":"quantitative","scale":{"domain":[0,1],"range":[312.7,616.7],"nice":false,"padding":0}},"y":{"field":"intact","type":"quantitative","scale":{"domain":[0,0.25],"range":[477.7,338],"nice":false}}}},
{"data":{"name":"arrows"},"mark":{"type":"rule","strokeWidth":1.3},"encoding":{"x":{"field":"lo","type":"quantitative"},"y":{"field":"top","type":"quantitative"},"y2":{"field":"tip"},"color":{"field":"c","type":"nominal","scale":{"domain":["black","gray"],"range":["#444","#888"]},"legend":null}}},
{"data":{"name":"arrows"},"mark":{"type":"point","shape":"triangle-down","filled":true,"size":32,"opacity":1},"encoding":{"x":{"field":"lo","type":"quantitative"},"y":{"field":"tip","type":"quantitative"},"color":{"field":"c","type":"nominal","scale":{"domain":["black","gray"],"range":["#111","#888"]},"legend":null}}}]},
{"layer":[
{"data":{"name":"diag"},"mark":{"type":"line","color":"#333","strokeWidth":1},"encoding":{"x":{"field":"x","type":"quantitative","scale":{"domain":[-0.3,0.7],"range":[181.7,363.5],"nice":false},"axis":{"orient":"bottom","values":[-0.3,0,0.3,0.6],"labelExpr":"datum.value==0?'0':replace(format(datum.value,'.1f'),'-','−')","offset":-78.7,"title":["Frac. of learned song response","masked by inhibition"],"titleX":270,"titleY":34,"titleLineHeight":25,"titleFontSize":20,"labelFontSize":17,"tickSize":5,"labelPadding":9}},"y":{"field":"y","type":"quantitative","scale":{"domain":[-0.3,0.7],"range":[768.3,587],"nice":false},"axis":{"orient":"left","values":[-0.3,0,0.3,0.6],"labelExpr":"datum.value==0?'0':replace(format(datum.value,'.1f'),'-','−')","offset":-181.7,"title":["Frac. of novel song response","masked by inhibition"],"titleX":-80.5,"titleY":688,"titleLineHeight":26,"titleFontSize":20,"labelFontSize":17,"tickSize":5,"labelPadding":6}}}},
{"data":{"name":"dorsal"},"mark":{"type":"circle","color":"#000","size":24,"opacity":1},"encoding":{"x":{"field":"x","type":"quantitative","scale":{"domain":[-0.3,0.7],"range":[181.7,363.5],"nice":false}},"y":{"field":"y","type":"quantitative","scale":{"domain":[-0.3,0.7],"range":[768.3,587],"nice":false}}}},
{"data":{"values":[{"x":0.2,"y":0.81,"label":"Dorsal"}]},"mark":{"type":"text","fontSize":16.5,"color":"#333","baseline":"middle"},"encoding":{"x":{"field":"x","type":"quantitative","scale":{"domain":[-0.3,0.7],"range":[181.7,363.5],"nice":false}},"y":{"field":"y","type":"quantitative","scale":{"domain":[-0.3,0.7],"range":[768.3,587],"nice":false}},"text":{"field":"label"}}}]},
{"layer":[
{"data":{"name":"diag"},"mark":{"type":"line","color":"#333","strokeWidth":1},"encoding":{"x":{"field":"x","type":"quantitative","scale":{"domain":[-0.3,0.7],"range":[552.3,733.5],"nice":false},"axis":{"orient":"bottom","values":[-0.3,0,0.3,0.6],"labelExpr":"datum.value==0?'0':replace(format(datum.value,'.1f'),'-','−')","offset":-78.7,"title":["Frac. of learned song response","masked by inhibition"],"titleX":640,"titleY":34,"titleLineHeight":25,"titleFontSize":20,"labelFontSize":17,"tickSize":5,"labelPadding":9}},"y":{"field":"y","type":"quantitative","scale":{"domain":[-0.3,0.7],"range":[768.3,587],"nice":false},"axis":{"orient":"left","values":[-0.3,0,0.3,0.6],"labelExpr":"datum.value==0?'0':replace(format(datum.value,'.1f'),'-','−')","offset":-552.3,"title":["Frac. of novel song response","masked by inhibition"],"titleX":-80.5,"titleY":688,"titleLineHeight":26,"titleFontSize":20,"labelFontSize":17,"tickSize":5,"labelPadding":6}}}},
{"data":{"name":"ventral"},"mark":{"type":"circle","color":"#000","size":24,"opacity":1},"encoding":{"x":{"field":"x","type":"quantitative","scale":{"domain":[-0.3,0.7],"range":[552.3,733.5],"nice":false}},"y":{"field":"y","type":"quantitative","scale":{"domain":[-0.3,0.7],"range":[768.3,587],"nice":false}}}},
{"data":{"values":[{"x":0.2,"y":0.81,"label":"Ventral"}]},"mark":{"type":"text","fontSize":16.5,"color":"#333","baseline":"middle"},"encoding":{"x":{"field":"x","type":"quantitative","scale":{"domain":[-0.3,0.7],"range":[552.3,733.5],"nice":false}},"y":{"field":"y","type":"quantitative","scale":{"domain":[-0.3,0.7],"range":[768.3,587],"nice":false}},"text":{"field":"label"}}}]},
{"data":{"values":[{"fx":0.0686,"fy":0.0205,"label":"A"},{"fx":0.5604,"fy":0.0195,"label":"B"},{"fx":0.2922,"fy":0.3908,"label":"C"},{"fx":0.0851,"fy":0.6494,"label":"D"},{"fx":0.5629,"fy":0.6494,"label":"E"}]},"mark":{"type":"text","fontSize":26,"fontWeight":"bold","color":"#222","baseline":"middle","align":"center"},"encoding":{"x":{"field":"fx","type":"quantitative","scale":{"domain":[0,1],"range":[0,787],"nice":false},"axis":null},"y":{"field":"fy","type":"quantitative","scale":{"domain":[0,1],"range":[0,847],"nice":false},"axis":null},"text":{"field":"label"}}}
]}
